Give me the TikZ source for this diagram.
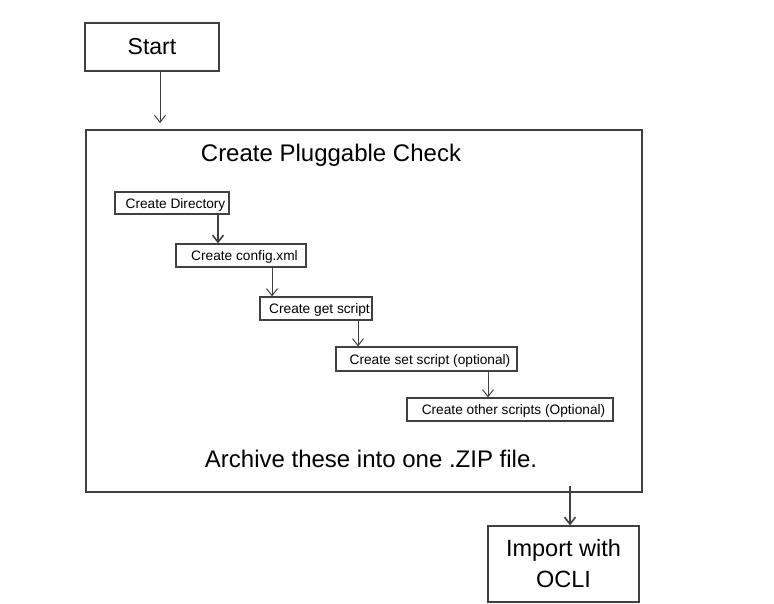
\documentclass[tikz,border=0pt]{standalone}
\usepackage{fontspec}
\setmainfont{Liberation Sans}
\usetikzlibrary{arrows.meta}
\begin{document}
\begin{tikzpicture}[x=1pt,y=-1pt,
  box/.style={draw=black!75, line width=1.2pt, inner sep=0pt},
  smallbox/.style={box, line width=1.2pt, font=\fontsize{13.7}{16}\selectfont,
    text height=10pt, text depth=0pt, execute at begin node=\hspace*{7pt}},
  arr/.style={draw=black!75, line width=1pt, -{Straight Barb[length=7pt,width=11pt]}},
  thickarr/.style={arr, line width=1.6pt},
]
\useasboundingbox (0,0) rectangle (774,603);
\fill[white] (0,0) rectangle (774,603);

\node[box, minimum width=134pt, minimum height=48pt, font=\fontsize{23}{27}\selectfont] (start) at (152,47) {Start};
\node[box, line width=1.8pt, minimum width=556pt, minimum height=362pt] (main) at (364,311) {};
\node[anchor=base, inner sep=0pt, font=\fontsize{24}{28}\selectfont] (title) at (331,161.5) {Create Pluggable Check};
\node[anchor=base, inner sep=0pt, font=\fontsize{24}{28}\selectfont] (archive) at (371,467) {Archive these into one .ZIP file.};

\node[smallbox, minimum width=114pt, minimum height=22pt] (dir) at (172,203) {Create Directory};
\node[smallbox, minimum width=130pt, minimum height=23pt] (config) at (241,255.5) {Create config.xml};
\node[smallbox, minimum width=112pt, minimum height=23pt] (get) at (316,308.5) {Create get script};
\node[smallbox, minimum width=181pt, minimum height=24pt] (set) at (426.5,359) {Create set script (optional)};
\node[smallbox, minimum width=206pt, minimum height=23pt] (other) at (510,409.5) {Create other scripts (Optional)};

\node[box, minimum width=151pt, minimum height=76pt, align=center,
  font=\fontsize{23.5}{31}\selectfont] (import) at (563.5,564) {Import with\\OCLI};

\coordinate (c0) at (160,0);
\coordinate (c1) at (218,0);
\coordinate (c2) at (272,0);
\coordinate (c3) at (358,0);
\coordinate (c4) at (488,0);
\coordinate (c5) at (570,0);

\draw[arr, shorten >=6pt] (start.south -| c0) -- (main.north -| c0);
\draw[thickarr] (dir.south -| c1) -- (config.north -| c1);
\draw[arr] (config.south -| c2) -- (get.north -| c2);
\draw[arr] (get.south -| c3) -- (set.north -| c3);
\draw[arr] (set.south -| c4) -- (other.north -| c4);
\draw[thickarr, shorten <=-7pt] (main.south -| c5) -- (import.north -| c5);
\end{tikzpicture}
\end{document}
